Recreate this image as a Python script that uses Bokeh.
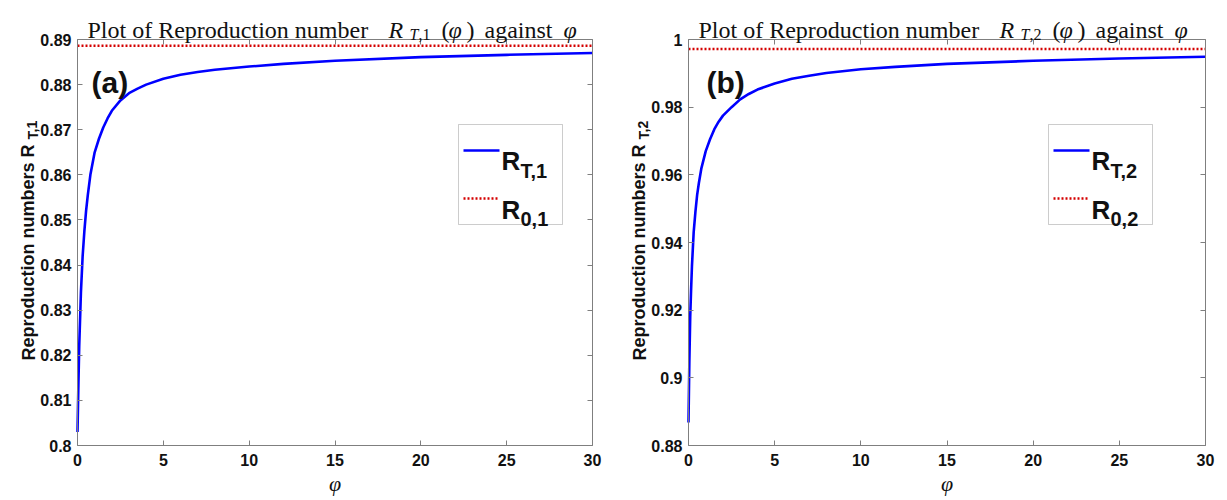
from bokeh.plotting import figure
from bokeh.models import (Label, BoxAnnotation, Arrow, LinearAxis, FixedTicker,
                          CustomJSTickFormatter, Range1d)
from bokeh.layouts import row
from bokeh.embed import file_html
from bokeh.resources import INLINE

# ---------------- data ----------------
phi = [0, 0.05, 0.1, 0.15, 0.2, 0.3, 0.4, 0.5, 0.6, 0.75, 1, 1.25, 1.5,
       1.75, 2, 2.5, 3, 3.5, 4, 5, 6, 7, 8, 10, 12, 15, 20, 25, 30]
rt1 = [0.803, 0.813, 0.822, 0.828, 0.834, 0.842, 0.8475, 0.852, 0.8555,
       0.860, 0.865, 0.868, 0.8705, 0.8725, 0.8742, 0.8765, 0.8781, 0.8791,
       0.8800, 0.8813, 0.8822, 0.8828, 0.8833, 0.8840, 0.8846, 0.8853,
       0.8861, 0.8866, 0.8870]
rt2 = [0.8868, 0.905, 0.918, 0.926, 0.933, 0.943, 0.949, 0.954, 0.9575,
       0.962, 0.967, 0.9705, 0.9735, 0.9757, 0.9775, 0.980, 0.9823, 0.9839,
       0.9852, 0.9870, 0.9884, 0.9893, 0.9901, 0.9912, 0.9919, 0.9928,
       0.9937, 0.9944, 0.9949]
r01 = 0.8886
r02 = 0.9972
phi_span = [0, 30]

x_ticks = [0, 5, 10, 15, 20, 25, 30]
x_tick_labels = ["0", "5", "10", "15", "20", "25", "30"]
y_ticks1 = [0.80, 0.81, 0.82, 0.83, 0.84, 0.85, 0.86, 0.87, 0.88, 0.89]
y_tick_labels1 = ["0.8", "0.81", "0.82", "0.83", "0.84", "0.85", "0.86",
                  "0.87", "0.88", "0.89"]
y_ticks2 = [0.88, 0.90, 0.92, 0.94, 0.96, 0.98, 1.00]
y_tick_labels2 = ["0.88", "0.9", "0.92", "0.94", "0.96", "0.98", "1"]

GREY = "#7f7f7f"
INK = "#111111"
SANS = "Liberation Sans"
SERIF = "Liberation Serif"
H = 500
FRAME_TOP = 39
FRAME_BOTTOM = 445


def make_panel(width, frame_left, frame_w, ydata, r0, y_lim, yticks,
               ylabels, idx, tag, tag_x, legend_x):
    x0, x1 = 0.0, 30.0
    y0, y1 = y_lim
    ppx = frame_w / (x1 - x0)
    ppy = (FRAME_BOTTOM - FRAME_TOP) / (y1 - y0)
    xr = Range1d(x0 - frame_left / ppx, x1 + (width - frame_left - frame_w) / ppx)
    yr = Range1d(y0 - (H - FRAME_BOTTOM) / ppy, y1 + FRAME_TOP / ppy)
    p = figure(width=width, height=H, output_backend="svg",
               toolbar_location=None, x_range=xr, y_range=yr,
               x_axis_location=None, y_axis_location=None,
               min_border=0)
    p.grid.visible = False
    p.outline_line_color = None
    p.background_fill_color = "white"
    p.border_fill_color = "white"

    # data
    p.line(phi, ydata, line_color="#0000ff", line_width=2.6)
    p.line(phi_span, [r0, r0], line_color="#d40000", line_width=2.6,
           line_dash="2 2")

    def axis(ticks, loc, bounds, labels=None):
        ax = LinearAxis(ticker=FixedTicker(ticks=ticks), fixed_location=loc,
                        bounds=bounds, major_tick_in=5, major_tick_out=0,
                        minor_tick_line_color=None, axis_line_color=GREY,
                        major_tick_line_color=GREY,
                        major_label_text_font=SANS,
                        major_label_text_font_style="bold",
                        major_label_text_font_size="16px",
                        major_label_text_color=INK)
        if labels is None:
            ax.formatter = CustomJSTickFormatter(code="return ''")
        else:
            ax.major_label_overrides = dict(zip(ticks, labels))
        return ax

    xb = axis(x_ticks, y0, (x0, x1), x_tick_labels)
    xb.major_label_standoff = 8
    xb.axis_label = "φ"
    xb.axis_label_text_font = SERIF
    xb.axis_label_text_font_style = "italic"
    xb.axis_label_text_font_size = "22px"
    xb.axis_label_text_color = INK
    xb.axis_label_standoff = 2
    p.add_layout(xb, "below")
    yl = axis(yticks, x0, (y0, y1), ylabels)
    yl.major_label_standoff = 6
    p.add_layout(yl, "left")
    p.add_layout(axis(x_ticks, y1, (x0, x1)), "above")
    p.add_layout(axis(yticks, x1, (y0, y1)), "right")

    def lab(x, y, text, size, font=SANS, style="bold", align="left",
            baseline="alphabetic", angle=0):
        # x, y: pixels from the figure's top-left corner
        p.add_layout(Label(x=x, y=H - y, x_units="screen", y_units="screen",
                           text=text, text_font=font, text_font_style=style,
                           text_font_size=f"{size}px", text_align=align,
                           text_baseline=baseline, angle=angle,
                           text_color=INK))

    # title: Plot of Reproduction number R_{T,i}(φ) against φ
    fl = frame_left
    tb = 29
    lab(fl + 10, tb, "Plot of Reproduction number", 24, SERIF, "normal")
    lab(fl + 311, tb, "R", 24, SERIF, "italic")
    lab(fl + 332, tb + 5, "T", 16, SERIF, "italic")
    lab(fl + 341, tb + 5, "," + idx, 16, SERIF, "normal")
    lab(fl + 364, tb, "(", 24, SERIF, "normal")
    lab(fl + 371, tb, "φ", 24, SERIF, "italic")
    lab(fl + 389, tb, ")", 24, SERIF, "normal")
    lab(fl + 407, tb, "against", 24, SERIF, "normal")
    lab(fl + 486, tb, "φ", 24, SERIF, "italic")

    # y-axis label, rotated: Reproduction numbers R_{T,i}
    bx = fl - 49
    lab(bx, 360, "Reproduction numbers R", 18, angle=1.5708)
    lab(bx + 4, 360 - 221, "T," + idx, 14, angle=1.5708)

    # panel tag
    lab(tag_x, 82, tag, 30, baseline="middle")

    # legend box
    lx = legend_x
    p.add_layout(BoxAnnotation(left=lx, right=lx + 104, bottom=H - 224,
                               top=H - 124,
                               left_units="screen", right_units="screen",
                               top_units="screen", bottom_units="screen",
                               fill_color="white", fill_alpha=1,
                               line_color="#555555", line_width=1))
    p.add_layout(Arrow(end=None, x_start=lx + 5, y_start=H - 150,
                       x_end=lx + 41, y_end=H - 150, start_units="screen",
                       end_units="screen", line_color="#0000ff",
                       line_width=2.6))
    p.add_layout(Arrow(end=None, x_start=lx + 5, y_start=H - 198,
                       x_end=lx + 41, y_end=H - 198, start_units="screen",
                       end_units="screen", line_color="#d40000",
                       line_width=2.6, line_dash="2 2"))
    lab(lx + 43, 160, "R", 26)
    lab(lx + 62, 170, "T," + idx, 20)
    lab(lx + 43, 209, "R", 26)
    lab(lx + 62, 218, "0," + idx, 20)
    return p


p1 = make_panel(613, 77, 515, rt1, r01, (0.80, 0.89), y_ticks1,
                y_tick_labels1, "1", "(a)", 91, 458)
p2 = make_panel(614, 75, 517, rt2, r02, (0.88, 1.00), y_ticks2,
                y_tick_labels2, "2", "(b)", 93, 435)

layout = row(p1, p2)
open("out.html", "w").write(file_html(layout, INLINE))
